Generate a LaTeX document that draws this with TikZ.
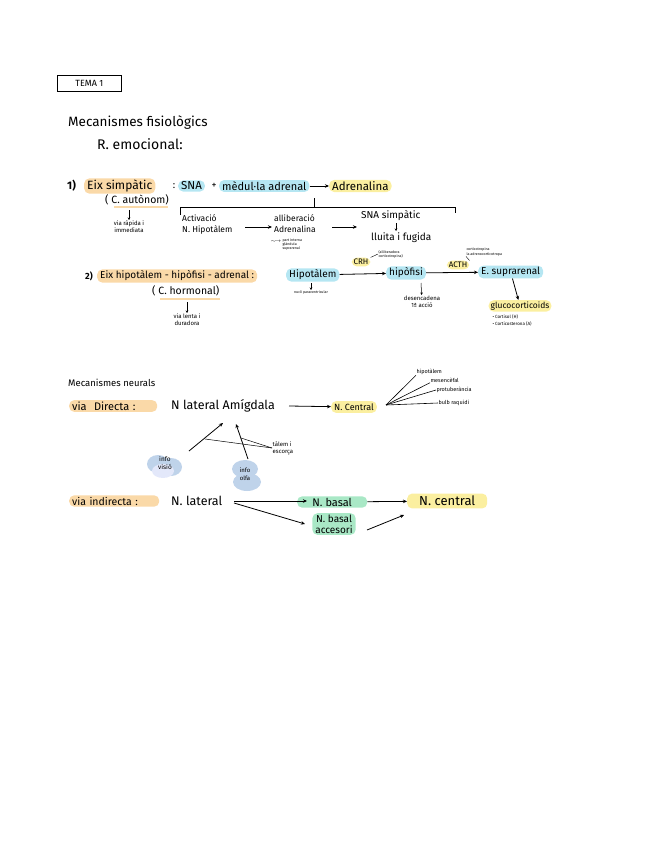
\documentclass[tikz,border=0pt]{standalone}
\usepackage{fontspec}
\setmainfont{Fira Sans}
\usetikzlibrary{arrows.meta}
\definecolor{hOr}{HTML}{FAD9A8}
\definecolor{hBl}{HTML}{B5E6F2}
\definecolor{hYe}{HTML}{FBEFA0}
\definecolor{hGr}{HTML}{A9E8C6}
\definecolor{hBlob}{HTML}{BFD3EA}
\tikzset{
  txt/.style={inner sep=1pt, font=\fontsize{10}{12}\selectfont},
  sm/.style={inner sep=0.5pt, font=\fontsize{6}{7}\selectfont, align=center},
  tiny/.style={inner sep=0.3pt, font=\fontsize{3.6}{4.2}\selectfont, align=center},
  hl/.style={inner xsep=3pt, inner ysep=1.5pt, rounded corners=5pt, font=\fontsize{10}{12}\selectfont},
  hlO/.style={hl, fill=hOr},
  hlB/.style={hl, fill=hBl},
  hlY/.style={hl, fill=hYe},
  hlG/.style={hl, fill=hGr},
  arr/.style={-{Stealth[length=4pt,width=3.5pt]}, line width=0.8pt},
  sarr/.style={-{Stealth[length=2.5pt,width=2.5pt]}, line width=0.5pt},
  ln/.style={line width=0.6pt}
}
\begin{document}
\begin{tikzpicture}[x=1pt,y=-1pt]
\useasboundingbox (0,0) rectangle (648,848);

% title
\node[draw, line width=0.8pt, minimum width=64pt, minimum height=16pt, inner sep=0pt, anchor=north west, font=\fontsize{9}{10}\selectfont] (tema) at (57,75) {TEMA 1};
\node[txt, anchor=west, font=\fontsize{13.5}{15}\selectfont] (mec) at (67,123) {Mecanismes fisiològics};
\node[txt, anchor=west, font=\fontsize{14}{16}\selectfont] (remo) at (96,144) {R. emocional:};

% line 1
\node[txt, anchor=west, font=\bfseries\fontsize{11}{12}\selectfont] (n1) at (66,186) {1)};
\node[hlO, anchor=west, font=\fontsize{12}{14}\selectfont] (eixs) at (84,186) {Eix simpàtic};
\node[txt] (c1) at (174,186) {:};
\node[hlB, anchor=west, font=\fontsize{11.5}{14}\selectfont] (sna) at (178,186) {SNA};
\node[txt] (plus1) at (214,186) {+};
\node[hlB, anchor=west, font=\fontsize{11}{14}\selectfont] (medula) at (219,186) {mèdul·la adrenal};
\node[hlY, anchor=west, font=\fontsize{11.5}{14}\selectfont] (adren) at (329,186) {Adrenalina};
\draw[arr] (medula) -- (adren);
\node[txt, anchor=west, font=\fontsize{10.5}{12}\selectfont] (caut) at (104,200) {( C. autònom)};
\draw[hOr, line width=1.5pt] (114,207) -- (168,207);

% bracket
\coordinate (bl) at (180,215);
\coordinate (bla) at (180,207);
\coordinate (br) at (455,213);
\coordinate (bra) at (455,207);
\coordinate (bm) at (314,207);
\coordinate (bt) at (314,198);
\draw[ln] (bl) -- (bla) -- (bra) -- (br);
\draw[ln] (bm) -- (bt);

\coordinate (va1) at (129,210);
\node[sm, anchor=north] (via1) at (129,220) {via ràpida i\\immediata};
\draw[sarr] (va1) -- (via1);

\node[txt, anchor=west, align=left, font=\fontsize{8.5}{11}\selectfont] (activ) at (181,224) {Activació\\N. Hipotàlem};
\node[txt, anchor=west, align=left, font=\fontsize{8.5}{11}\selectfont] (allib) at (273,224) {alliberació\\Adrenalina};
\coordinate (a1s) at (245,227);
\coordinate (a1e) at (272,227);
\draw[arr] (a1s) -- (a1e);
\node[tiny, anchor=north west, align=left] (part) at (282,238) {part interna\\glàndula\\suprarenal};
\node[tiny, font=\fontsize{5}{5}\selectfont] (tilde) at (276,242) {$\sim\!\rightarrow$};
\node[txt, anchor=west, font=\fontsize{10}{12}\selectfont] (snas) at (360,216) {SNA simpàtic};
\node[txt, anchor=west, font=\fontsize{10}{12}\selectfont] (lluita) at (370,238) {lluita i fugida};
\coordinate (s1) at (396,223);
\coordinate (s2) at (396,231);
\draw[sarr] (s1) -- (s2);
\coordinate (a2s) at (332,227);
\coordinate (a2e) at (357,227);
\draw[arr] (a2s) -- (a2e);

% line 2
\node[txt, anchor=west, font=\bfseries\fontsize{9}{11}\selectfont] (n2) at (84,276) {2)};
\node[hlO, anchor=west] (eixh) at (97,276) {Eix hipotàlem - hipòfisi - adrenal :};
\node[txt, anchor=west, font=\fontsize{10.5}{12}\selectfont] (chor) at (151,291) {( C. hormonal)};
\draw[hOr, line width=1.5pt] (160,299) -- (220,299);
\coordinate (va2) at (187,302);
\node[sm, anchor=north] (via2) at (187,313) {via lenta i\\duradora};
\draw[sarr] (va2) -- (via2);

\node[hlB, anchor=west] (hipot) at (286,275) {Hipotàlem};
\node[tiny, anchor=north] (nucli) at (311,290) {nucli paraventricular};
\coordinate (nu1) at (311,283);
\draw[sarr] (nu1) -- (nucli);

\node[hlB, anchor=west] (hipof) at (386,273) {hipòfisi};
\draw[arr] (hipot) -- (hipof);
\node[hlY, inner xsep=2pt, font=\fontsize{8}{10}\selectfont] (crh) at (361,262) {CRH};
\node[tiny, anchor=west, align=left] (allcort) at (378,254) {(alliberadora\\corticotropina)};
\draw[ln, line width=0.4pt] (crh.north east) -- (allcort.west);

\node[sm, anchor=north] (desenc) at (422,295) {desencadena\\1ª acció};
\coordinate (de1) at (421,283);
\draw[sarr] (de1) -- (desenc);

\node[hlB, anchor=west] (esup) at (478,272) {E. suprarenal};
\draw[arr] (hipof) -- (esup);
\node[hlY, inner xsep=2pt, font=\fontsize{8}{10}\selectfont] (acth) at (458,265) {ACTH};
\node[tiny, anchor=west, align=left] (cortic) at (466,252) {corticotropina\\la adrenocorticotropa};
\draw[ln, line width=0.4pt] (acth.north east) -- (cortic.south west);

\node[hlY, anchor=north, inner xsep=2pt, font=\fontsize{8.5}{10}\selectfont] (gluco) at (520,300) {glucocorticoids};
\draw[arr] (esup) -- (gluco);
\node[tiny, anchor=north west, align=left, font=\fontsize{4.5}{7}\selectfont] (cort) at (492,314) {• Cortisol (H)\\• Corticosterona (A)};

% neural mechanisms
\node[txt, anchor=west, font=\fontsize{9.5}{11}\selectfont] (mecn) at (67,383) {Mecanismes neurals};
\node[hlO, anchor=west, font=\fontsize{11}{13}\selectfont, text width=82pt, align=left] (vdir) at (69,406) {via \ Directa :};
\node[txt, anchor=west, font=\fontsize{12.5}{14}\selectfont] (nlat1) at (170,406) {N lateral Amígdala};
\node[hlY, anchor=west, font=\fontsize{9}{10}\selectfont, inner ysep=2.5pt] (ncen1) at (331,407) {N. Central};
\coordinate (dl) at (289,406);
\draw[arr] (dl) -- (ncen1);

\node[tiny, anchor=west, font=\fontsize{5.5}{6}\selectfont] (t1) at (416,372) {hipotàlem};
\node[tiny, anchor=west, font=\fontsize{5.5}{6}\selectfont] (t2) at (430,380) {mesencèfal};
\node[tiny, anchor=west, font=\fontsize{5.5}{6}\selectfont] (t3) at (436,390) {protuberància};
\node[tiny, anchor=west, font=\fontsize{5.5}{6}\selectfont] (t4) at (438,403) {bulb raquidi};
\coordinate (nc) at (386,405);
\draw[ln] (nc) -- (t1.south west);
\draw[ln] (nc) -- (t2.south west);
\draw[ln] (nc) -- (t3.west);
\draw[ln] (nc) -- (t4.west);

% info blobs
\fill[hBlob] (158,464) ellipse (11 and 9);
\fill[hBlob] (171,467) ellipse (11 and 9);
\fill[hBlob!85!blue!30] (163,471) ellipse (11 and 7);
\node[sm, font=\fontsize{6.5}{8}\selectfont] (ivis) at (165,463) {info\\visió};
\fill[hBlob] (245,469) ellipse (13 and 9);
\fill[hBlob] (247,482) ellipse (14 and 9);
\node[sm, font=\fontsize{6}{8}\selectfont] (iolf) at (245,474) {info\\olfa};

\coordinate (a1b) at (189,451);
\coordinate (a1t) at (223,423);
\coordinate (a2b) at (248,459);
\coordinate (a2t) at (236,424);
\draw[arr] (a1b) -- (a1t);
\draw[arr] (a2b) -- (a2t);
\node[sm, align=left, anchor=west] (talem) at (272,448) {tàlem i\\escorça};
\coordinate (tl1) at (205,439);
\coordinate (tl2) at (241,438);
\draw[ln, line width=0.5pt] (talem.west) -- (tl1);
\draw[ln, line width=0.5pt] (talem.west) -- (tl2);

% via indirecta
\node[hlO, anchor=west, font=\fontsize{10.5}{12}\selectfont, text width=84pt, align=left] (vind) at (69,501) {via indirecta :};
\node[txt, anchor=west, font=\fontsize{12.5}{14}\selectfont] (nlat2) at (170,501) {N. lateral};
\node[hlG, anchor=west, minimum width=70pt, font=\fontsize{11}{13}\selectfont] (nbas) at (297,502) {N. basal};
\node[hlG, anchor=north, align=center, font=\fontsize{10}{11}\selectfont] (nbasa) at (334,513) {N. basal\\accesori};
\node[hlY, anchor=west, font=\fontsize{13}{15}\selectfont, inner ysep=2.5pt, minimum width=80pt] (ncen2) at (407,501) {N. central};
\coordinate (il1) at (234,501);
\coordinate (il2) at (234,503);
\coordinate (ib1) at (307,501);
\coordinate (ib2) at (305,524);
\coordinate (iba) at (367,530);
\coordinate (ibe) at (404,515);
\draw[arr] (il1) -- (ib1);
\draw[arr] (il2) -- (ib2);
\draw[arr] (nbas) -- (ncen2);
\draw[arr] (iba) -- (ibe);
\end{tikzpicture}
\end{document}
